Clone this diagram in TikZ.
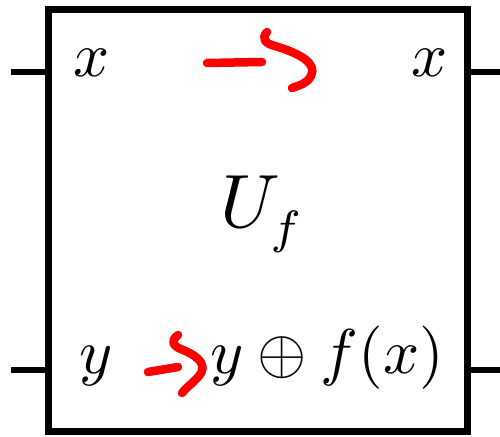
\documentclass[tikz,border=0pt]{standalone}
\usepackage{graphicx}
\usetikzlibrary{positioning}
\newcommand{\bigmath}[1]{\scalebox{3.6}{$#1$}}

\begin{document}
\begin{tikzpicture}[
    gatebox/.style={draw, line width=0.14cm, minimum width=8.38cm, minimum height=8.42cm, inner sep=0pt},
    wire/.style={line width=0.13cm},
    qlabel/.style={inner sep=0pt, anchor=base},
    scribble/.style={red, line width=0.17cm, line cap=round, line join=round},
  ]
  \useasboundingbox (0,0) rectangle (10,8.72);

  % Oracle box
  \node[gatebox] (gate) at (5.15,4.31) {};
  \node[qlabel, anchor=base west] (uname) at (4.4,4.18)
    {\scalebox{4.3}{$U$}\hspace{-0.2cm}\raisebox{-0.32cm}{\scalebox{3.8}{$\scriptstyle f$}}};

  % Wires
  \coordinate (xin) at (0.22,7.28);
  \coordinate (xout) at (10,7.28);
  \coordinate (yin) at (0.22,1.32);
  \coordinate (yout) at (10,1.32);
  \draw[wire] (xin) -- (xin -| gate.west);
  \draw[wire] (gate.east |- xout) -- (xout);
  \draw[wire] (yin) -- (yin -| gate.west);
  \draw[wire] (gate.east |- yout) -- (yout);

  % Inputs and outputs
  \node[qlabel] (xleft) at (1.84,7.18) {\bigmath{x}};
  \node[qlabel] (xright) at (8.6,7.18) {\bigmath{x}};
  \node[qlabel] (yleft) at (1.92,1.26) {\bigmath{y}};
  \node[qlabel, anchor=base west] (yright) at (4.2,1.26)
    {\bigmath{y\oplus f(x)}};

  % Red marks
  \draw[scribble] (4.14,7.46) -- (5.24,7.48);
  \draw[scribble] (5.34,8.08) .. controls (5.22,7.95) and (5.3,7.85) .. (5.5,7.8)
    .. controls (6.0,7.65) and (6.35,7.45) .. (6.22,7.2)
    .. controls (6.15,7.05) and (5.95,7.0) .. (5.84,6.96);
  \draw[scribble] (2.96,1.28) -- (3.56,1.38);
  \draw[scribble] (3.56,2.02) .. controls (3.4,1.9) and (3.45,1.8) .. (3.66,1.72)
    .. controls (4.0,1.58) and (4.15,1.4) .. (3.98,1.2)
    .. controls (3.85,1.05) and (3.7,0.95) .. (3.64,0.86);

\end{tikzpicture}
\end{document}
